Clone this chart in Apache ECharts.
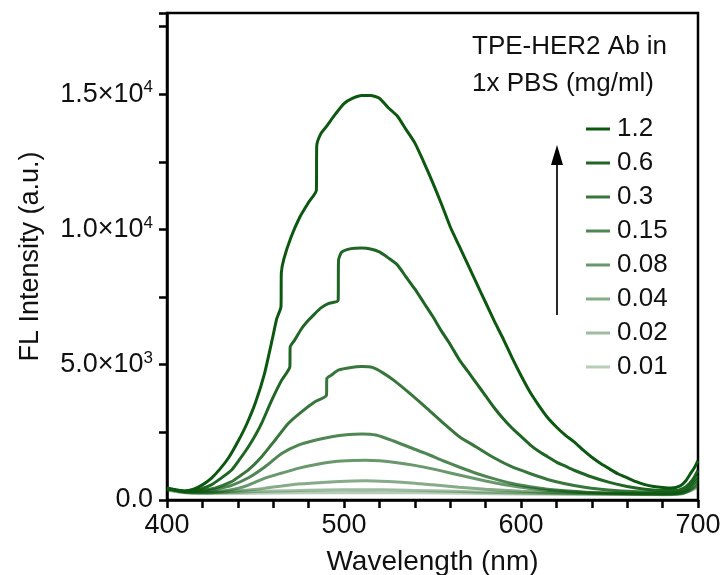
<!DOCTYPE html>
<html><head><meta charset="utf-8">
<script src="https://cdn.jsdelivr.net/npm/echarts@6/dist/echarts.min.js"></script>
<style>html,body{margin:0;padding:0;background:#fff}#c{width:722px;height:575px}</style>
</head><body><div id="c"></div>
<script>
// Concentrations (mg/ml), legend order top to bottom
const concentrations = ['1.2','0.6','0.3','0.15','0.08','0.04','0.02','0.01'];
const lineAlpha = [1, 0.92, 0.82, 0.72, 0.62, 0.5, 0.4, 0.3];
const legendTitle = ['TPE-HER2 Ab in', '1x PBS (mg/ml)'];
const yTickLabels = {0:'0.0', 5000:'5.0×10{s|3}', 10000:'1.0×10{s|4}', 15000:'1.5×10{s|4}'};
const xTickLabels = [400, 500, 600, 700];

// [wavelength nm, FL intensity a.u.]
const c1_2 = [[400,440],[405,380],[410,330],[415,400],[420,560],[425,800],[430,1150],[435,1580],[440,2150],[445,2800],[450,3600],[455,4650],[460,6100],[462,6700],[464.4,7150],[464.6,8400],[466,8900],[470,9700],[475,10450],[480,11000],[484.4,11450],[484.6,13100],[487,13550],[490,13800],[495,14250],[500,14650],[505,14850],[510,14950],[515,14950],[520,14850],[525,14500],[530,14200],[535,13700],[540,13200],[545,12500],[550,11750],[555,10950],[560,10100],[565,9400],[570,8700],[575,8000],[580,7300],[585,6600],[590,5950],[595,5250],[600,4600],[605,4000],[610,3500],[615,3050],[620,2700],[625,2400],[630,2150],[635,1850],[640,1580],[645,1350],[650,1150],[655,960],[660,820],[665,680],[670,570],[675,500],[680,460],[685,440],[690,520],[693,700],[696,1000],[698,1200],[700,1450]];
const c0_6 = [[400,420],[405,360],[410,320],[415,350],[420,430],[425,560],[430,780],[436.5,1110],[441,1500],[446,1970],[450,2400],[453.5,2840],[459.2,3690],[464.8,4430],[469.4,4920],[469.6,5660],[472,5900],[476,6330],[480,6650],[483.6,6890],[487,7100],[491.1,7260],[496.7,7380],[496.9,8860],[498.7,9160],[504,9290],[510,9310],[515,9280],[520,9170],[525,8950],[530,8700],[535,8250],[540,7800],[545,7300],[550,6800],[555,6250],[560,5750],[565,5200],[570,4750],[575,4300],[580,3850],[585,3400],[590,3000],[595,2650],[600,2350],[605,2050],[610,1800],[615,1600],[620,1400],[625,1250],[630,1100],[640,850],[650,650],[660,500],[670,400],[680,350],[688,350],[693,480],[697,750],[700,1100]];
const c0_3 = [[400,420],[405,360],[410,320],[415,320],[420,360],[427,440],[436.5,680],[441,880],[446,1110],[453.5,1600],[461,2210],[468.5,2830],[476,3260],[483.6,3630],[490.1,3870],[490.3,4490],[493,4620],[496.8,4800],[504,4900],[510,4930],[516,4900],[522,4700],[528,4430],[537,3950],[547,3380],[556,2850],[565,2350],[575,1950],[585,1550],[595,1220],[605,980],[615,760],[625,600],[635,480],[645,400],[660,320],[680,270],[688,280],[694,420],[700,900]];
const c0_15 = [[400,420],[405,360],[410,310],[420,320],[428,400],[436.5,540],[446,820],[455.4,1230],[464.8,1720],[474.2,2030],[483.6,2210],[493,2340],[500,2400],[510,2440],[518,2400],[528,2180],[537,1950],[547,1700],[556,1450],[565,1220],[575,980],[585,780],[595,610],[605,490],[615,400],[625,340],[640,280],[660,250],[680,230],[688,250],[694,380],[700,780]];
const c0_08 = [[400,420],[405,360],[410,300],[420,285],[430,320],[440,430],[446,550],[455,800],[465,1000],[474,1170],[485,1320],[495,1420],[505,1460],[512,1470],[520,1450],[530,1380],[540,1280],[550,1150],[560,1000],[570,850],[580,700],[590,570],[600,470],[610,390],[620,330],[635,280],[650,250],[670,220],[685,220],[692,280],[696,400],[700,680]];
const c0_04 = [[400,400],[405,350],[410,290],[420,270],[430,290],[440,340],[455,430],[465,520],[474,590],[490,660],[505,700],[512,710],[525,680],[540,620],[550,560],[565,470],[580,400],[600,320],[620,270],[640,240],[660,220],[680,210],[690,240],[695,330],[700,580]];
const c0_02 = [[400,380],[410,280],[420,260],[440,290],[460,330],[480,360],[500,375],[512,380],[530,370],[550,340],[575,300],[600,260],[630,230],[660,210],[685,210],[692,250],[700,520]];
const c0_01 = [[400,360],[410,270],[420,240],[450,250],[480,265],[510,275],[540,265],[570,245],[600,225],[640,205],[680,195],[690,220],[700,460]];
const seriesData = [c1_2, c0_6, c0_3, c0_15, c0_08, c0_04, c0_02, c0_01];

const FONT = 'Liberation Sans, Arial, sans-serif';
const chart = echarts.init(document.getElementById('c'), null, {renderer:'canvas'});
const series = concentrations.map((name, i) => ({
  name, type:'line', data: seriesData[i], showSymbol:false, symbol:'none', smooth:0.2,
  lineStyle:{width:3, color:`rgba(12,88,16,${lineAlpha[i]})`},
  itemStyle:{color:`rgba(12,88,16,${lineAlpha[i]})`},
  z: 10 - i, animation:false
}));
chart.setOption({
  animation:false,
  grid:{left:167, right:24, top:13, bottom:75, outerBoundsMode:'none', containLabel:false,
    show:true, borderColor:'#000', borderWidth:2.5, backgroundColor:'transparent'},
  xAxis:{type:'value', min:400, max:700, interval:20,
    name:'Wavelength (nm)', nameLocation:'middle', nameGap:48,
    nameTextStyle:{fontFamily:FONT, fontSize:28, color:'#111'},
    axisLine:{lineStyle:{color:'#000', width:2.5}},
    axisTick:{length:8, lineStyle:{color:'#000', width:2.5}},
    splitLine:{show:false},
    axisLabel:{fontFamily:FONT, fontSize:27, color:'#111', margin:12,
      formatter: v => xTickLabels.includes(v) ? String(v) : ''}},
  yAxis:{type:'value', min:0, max:18000, interval:2500,
    name:'FL Intensity (a.u.)', nameLocation:'middle', nameGap:123,
    nameTextStyle:{fontFamily:FONT, fontSize:27, color:'#111'},
    axisLine:{lineStyle:{color:'#000', width:2.5}},
    axisTick:{length:8, lineStyle:{color:'#000', width:2.5}},
    splitLine:{show:false},
    axisLabel:{fontFamily:FONT, fontSize:27, color:'#111', margin:14,
      formatter: v => yTickLabels[v] !== undefined ? yTickLabels[v] : '',
      rich:{s:{fontFamily:FONT, fontSize:17, color:'#111', verticalAlign:'bottom', padding:[0,0,13,0]}}}},
  legend:{orient:'vertical', left:581, top:111, icon:'rect', itemWidth:24, itemHeight:3, itemGap:8,
    data: concentrations,
    textStyle:{fontFamily:FONT, fontSize:26, color:'#111', lineHeight:26, padding:[0,0,0,2]}},
  graphic:[
    {type:'text', left:472, top:34, style:{text:legendTitle[0], font:'26px '+FONT, fill:'#111'}},
    {type:'text', left:472, top:71, style:{text:legendTitle[1], font:'26px '+FONT, fill:'#111'}},
    {type:'line', shape:{x1:557, y1:315, x2:557, y2:160}, style:{stroke:'#111', lineWidth:1.8}},
    {type:'polygon', shape:{points:[[557,145],[551,165],[563,165]]}, style:{fill:'#000'}}
  ],
  series
});
</script></body></html>
